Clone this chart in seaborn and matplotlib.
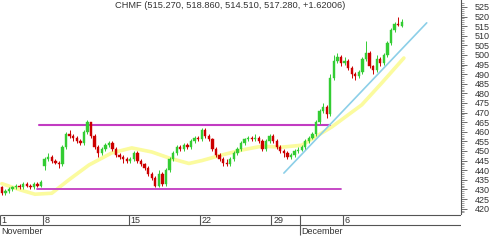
import numpy as np
import pandas as pd
import matplotlib
matplotlib.use("Agg")
import matplotlib.pyplot as plt
import seaborn as sns

title_text = "CHMF (515.270, 518.860, 514.510, 517.280, +1.62006)"

opens = [431, 428, 429, 430, 431, 432, 431, 433, 432, 431, 433, 432,
         442, 446, 447, 445, 444, 443, 452, 459, 458, 457, 455, 454,
         460, 465, 458, 452, 449, 451, 453, 454, 451, 448, 447, 446,
         445, 446, 449, 445, 443, 441, 438, 436, 432, 438, 433, 440,
         446, 449, 452, 451, 453, 452, 455, 457, 456, 461, 458, 456,
         451, 448, 446, 444, 443, 446, 449, 451, 454, 456, 457, 456,
         457, 455, 451, 455, 458, 455, 452, 450, 449, 447, 448, 450,
         450.5, 452, 455, 457, 459, 465, 471, 473, 469, 488, 497, 499,
         496, 497, 493, 490, 489, 491, 498, 501, 494, 492, 498, 496,
         500, 506, 513, 516, 515.27]
closes = [428, 429, 430, 431, 432, 431, 433, 432, 431, 433, 432, 434,
          446, 447, 445, 444, 443, 452, 459, 458, 457, 455, 454, 460,
          465, 458, 452, 449, 451, 453, 454, 451, 448, 447, 446, 445,
          446, 449, 445, 443, 441, 438, 436, 432, 438, 433, 440, 446,
          449, 452, 451, 453, 452, 455, 457, 456, 461, 458, 456, 451,
          448, 446, 444, 443, 446, 449, 451, 454, 456, 457, 456, 457,
          455, 451, 455, 458, 455, 452, 450, 449, 447, 448, 450, 450.5,
          452, 455, 457, 459, 465, 471, 473, 469, 488, 497, 499, 496,
          497, 493, 490, 489, 491, 498, 501, 494, 492, 498, 496, 500,
          506, 513, 516, 515.66, 517.28]
highs = [432, 430, 431, 432, 433, 433, 434, 434, 433, 434, 434, 435,
         447, 449, 448, 446, 445, 453, 460, 461, 459, 458, 456, 461,
         466, 465, 459, 453, 452, 454, 455, 455, 452, 449, 448, 447,
         447, 450, 450, 446, 444, 442, 439, 437, 440, 439, 441, 447,
         450, 453, 453, 454, 454, 456, 458, 458, 462, 462, 459, 457,
         452, 449, 447, 446, 447, 450, 452, 455, 457, 458, 458, 459,
         458, 456, 456, 459, 459, 456, 453, 451, 450, 449, 451, 452,
         453, 456, 458, 460, 466, 472, 475, 474, 490, 500, 501, 500,
         499, 498, 494, 491, 492, 499, 507, 502, 495, 500, 499, 501,
         507, 514, 517, 520, 518.86]
lows = [427, 427, 428, 429, 430, 430, 430, 431, 430, 430, 431, 431,
        440, 445, 444, 443, 441, 442, 451, 457, 455, 454, 453, 453,
        459, 457, 451, 447, 448, 450, 452, 450, 447, 446, 444, 444,
        444, 445, 444, 442, 440, 437, 435, 431, 431, 432, 432, 439,
        445, 448, 450, 450, 451, 451, 454, 455, 455, 457, 455, 450,
        447, 445, 442, 442, 442, 445, 448, 450, 453, 455, 455, 455,
        454, 450, 450, 454, 454, 451, 449, 447, 446, 446, 447, 449,
        450, 451, 454, 456, 458, 464, 470, 467, 468, 487, 496, 494,
        495, 492, 488, 487, 488, 490, 497, 493, 490, 491, 494, 495,
        499, 505, 512, 515, 514.51]

ma_pos = [0, 5.6, 9.3, 14, 18.8, 24.4, 30.8, 36.4, 42, 46.8, 52.4, 56,
          61.6, 67.2, 72.8, 78.4, 84, 92.4, 100.8, 106.4, 112.6]
ma_val = [433, 429.5, 427.5, 428, 435, 442.7, 449, 451.6, 449.5, 446.4,
          443.5, 445, 447.9, 450.5, 452.5, 452, 453, 462.5, 474, 485.4, 498.4]

resist_pos = [10.4, 91.9]
resist_val = [463.5, 463.5]
support_pos = [9.8, 95.0]
support_val = [430, 430]
trend_pos = [79, 119]
trend_val = [438.5, 516.7]

day_bounds = [-0.5, 11.5, 35.5, 55.5, 75.5, 95.5]
day_labels = ["1", "8", "15", "22", "29", "6"]
month_bounds = [-0.5, 83.5]
month_labels = ["November", "December"]

sns.set_style("white")
plt.rcParams['font.family'] = ['Liberation Sans', 'DejaVu Sans']

W, H = 500, 243
fig = plt.figure(figsize=(W / 100, H / 100), dpi=100)
ax = fig.add_axes([0, 1 - 214 / H, 461 / W, 214 / H])
band = fig.add_axes([0, 0, 461 / W, 1 - 214 / H])

xmin, xmax = -0.5, 128.6
ax.set_xlim(xmin, xmax)
ax.set_ylim(417.2, 528.6)

# moving average
ma_df = pd.DataFrame({"x": ma_pos, "y": ma_val})
sns.lineplot(data=ma_df, x="x", y="y", ax=ax, color="#fbfb9e", lw=2.6,
             zorder=1, estimator=None, sort=False)

# trend lines
for px, pv, col, lw in [(resist_pos, resist_val, "#c23cc2", 1.5),
                        (support_pos, support_val, "#c23cc2", 1.3),
                        (trend_pos, trend_val, "#8ccfe8", 1.2)]:
    sns.lineplot(x=px, y=pv, ax=ax, color=col, lw=lw, zorder=2,
                 estimator=None, sort=False)

# candles
df = pd.DataFrame({"o": opens, "h": highs, "l": lows, "c": closes})
df["x"] = np.arange(len(df))
up = df["c"] >= df["o"]
cols = np.where(up, "#33cc33", "#cc0000")
ax.vlines(df["x"], df["l"], df["h"], colors=cols, lw=0.7, zorder=3)
body = (df["c"] - df["o"]).abs().clip(lower=0.5)
ax.bar(df["x"], body, bottom=df[["o", "c"]].min(axis=1), width=0.65,
       color=cols, edgecolor=cols, lw=0.3, zorder=4)

ax.set_xlabel("")
ax.set_ylabel("")
for s in ["top", "left", "bottom"]:
    ax.spines[s].set_visible(False)
ax.spines["right"].set_color("#555555")
ax.spines["right"].set_linewidth(0.8)
ax.set_xticks([])
ax.yaxis.tick_right()
ax.set_yticks(np.arange(420, 526, 5))
ax.set_yticks(np.arange(418, 528, 1), minor=True)
ax.tick_params(axis="y", which="major", right=True, left=False, length=4,
               width=0.6, color="#555555", labelsize=6.5, pad=6,
               labelcolor="#333333")
ax.tick_params(axis="y", which="minor", right=True, left=False, length=2,
               width=0.5, color="#777777")

fig.text(230 / W, 1 - 5 / H, title_text, ha="center", va="center",
         fontsize=6.7, color="#333333")

# date band
band.set_xlim(xmin, xmax)
band.set_ylim(29, 0)
band.axis("off")
band.hlines([1, 11], xmin, xmax, colors="#555555", lw=0.8)
band.vlines(day_bounds, 1, 11, colors="#555555", lw=0.8)
band.vlines([month_bounds[1]], 1, 21, colors="#555555", lw=0.8)
for b, lab in zip(day_bounds, day_labels):
    band.text(b + 0.5, 6.2, lab, ha="left", va="center", fontsize=6.5,
              color="#333333")
for b, lab in zip(month_bounds, month_labels):
    band.text(b + 0.4, 17.5, lab, ha="left", va="center", fontsize=6.5,
              color="#333333")

fig.savefig("out.png", dpi=100)
